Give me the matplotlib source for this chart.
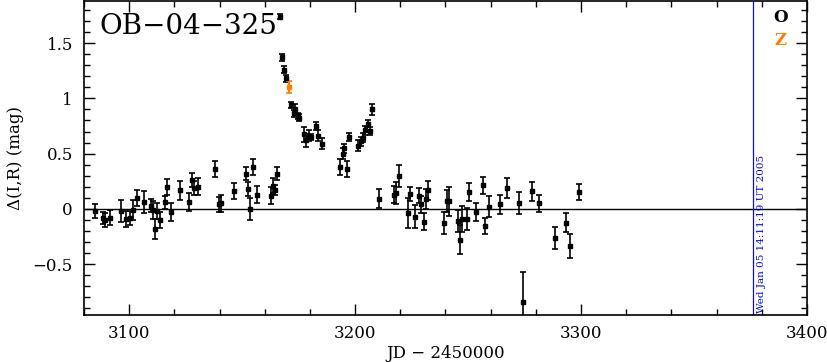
import matplotlib
matplotlib.use("Agg")
import matplotlib.pyplot as plt
from matplotlib.ticker import MultipleLocator

# O band (black)
jd_o = [3084.7, 3088.6, 3089.5, 3091.7, 3096.5, 3098.6, 3100.5, 3101.6, 3103.3, 3106.6,
        3109.6, 3110.6, 3111.6, 3112.5, 3113.7, 3115.7, 3116.6, 3118.7, 3122.7, 3126.6,
        3127.6, 3128.6, 3130.4, 3137.8, 3139.6, 3140.7, 3146.5, 3151.5, 3152.6, 3153.4,
        3154.6, 3156.7, 3162.6, 3163.5, 3164.5, 3165.6, 3166.6, 3167.6, 3168.7, 3169.6,
        3171.6, 3172.8, 3173.5, 3174.6, 3175.3, 3177.6, 3178.4, 3179.6, 3180.5, 3182.6,
        3183.5, 3185.5, 3193.2, 3194.5, 3195.3, 3196.2, 3197.3, 3201.2, 3202.5, 3203.4,
        3204.4, 3205.6, 3206.5, 3207.6, 3210.5, 3217.3, 3218.3, 3219.5, 3223.5, 3224.5,
        3226.4, 3228.5, 3229.3, 3230.4, 3231.5, 3232.4, 3239.5, 3240.5, 3241.5, 3245.4,
        3246.4, 3247.5, 3249.4, 3250.4, 3253.4, 3256.6, 3257.4, 3259.4, 3264.3, 3267.4,
        3272.5, 3274.4, 3278.3, 3281.6, 3288.3, 3293.2, 3295.2, 3299.3]
dmag_o = [-0.02, -0.08, -0.10, -0.08, -0.02, -0.09, -0.08, -0.01, 0.10, 0.06,
          0.03, -0.01, -0.18, -0.02, -0.10, 0.06, 0.20, -0.03, 0.17, 0.06,
          0.26, 0.19, 0.20, 0.36, 0.04, 0.05, 0.16, 0.32, 0.18, 0.00,
          0.38, 0.13, 0.12, 0.21, 0.17, 0.32, 1.74, 1.37, 1.26, 1.18,
          0.94, 0.865, 0.90, 0.84, 0.825, 0.675, 0.62, 0.66, 0.65, 0.75,
          0.66, 0.59, 0.38, 0.50, 0.55, 0.36, 0.65, 0.57, 0.61, 0.645,
          0.71, 0.77, 0.705, 0.90, 0.09, 0.13, 0.14, 0.30, -0.04, 0.135,
          -0.07, 0.12, 0.04, -0.115, 0.09, 0.17, -0.13, 0.07, 0.07, -0.11,
          -0.28, -0.09, -0.09, 0.15, -0.03, 0.215, -0.155, 0.02, 0.04, 0.19,
          0.05, -0.845, 0.16, 0.05, -0.26, -0.125, -0.335, 0.155]
err_o = [0.063, 0.056, 0.06, 0.066, 0.10, 0.07, 0.063, 0.09, 0.075, 0.10,
         0.057, 0.08, 0.09, 0.07, 0.074, 0.06, 0.072, 0.084, 0.085, 0.083,
         0.065, 0.06, 0.078, 0.072, 0.07, 0.077, 0.074, 0.062, 0.066, 0.10,
         0.07, 0.078, 0.08, 0.066, 0.045, 0.06, 0.025, 0.03, 0.03, 0.03,
         0.03, 0.03, 0.05, 0.03, 0.03, 0.07, 0.06, 0.05, 0.03, 0.04,
         0.05, 0.05, 0.07, 0.05, 0.04, 0.075, 0.04, 0.05, 0.04, 0.04,
         0.04, 0.03, 0.04, 0.05, 0.086, 0.075, 0.10, 0.10, 0.135, 0.06,
         0.107, 0.07, 0.08, 0.077, 0.09, 0.086, 0.10, 0.10, 0.13, 0.096,
         0.13, 0.115, 0.10, 0.08, 0.083, 0.077, 0.072, 0.096, 0.083, 0.09,
         0.10, 0.275, 0.086, 0.078, 0.10, 0.086, 0.105, 0.07]

# Z band (orange)
jd_z = [3170.6]
dmag_z = [1.10]
err_z = [0.055]

now_jd = 3376.09
now_label = "Wed Jan 05 14:11:19 UT 2005"

plt.rcParams['font.family'] = ['DejaVu Serif']

fig = plt.figure(figsize=(8.28, 3.62), dpi=100)
ax = fig.add_axes([0.1014, 0.1298, 0.8732, 0.8672])

ax.errorbar(jd_o, dmag_o, yerr=err_o, fmt='s', color='black', ms=2.5,
            elinewidth=1.2, capsize=2, capthick=1.2)
ax.errorbar(jd_z, dmag_z, yerr=err_z, fmt='s', color='#ff8000', ms=2.5,
            elinewidth=1.6, capsize=2, capthick=1.2)

ax.axhline(0, color='black', lw=1)
ax.axvline(now_jd, color='#1010c0', lw=0.9)
ax.text(now_jd + 1.8, -0.945, now_label, rotation=90, color='blue',
        fontsize=7.5, ha='left', va='bottom')

ax.set_xlim(3080, 3400)
ax.set_ylim(-0.96, 1.88)

ax.xaxis.set_major_locator(MultipleLocator(100))
ax.xaxis.set_minor_locator(MultipleLocator(20))
ax.yaxis.set_major_locator(MultipleLocator(0.5))
ax.yaxis.set_minor_locator(MultipleLocator(0.1))
ax.yaxis.set_major_formatter(matplotlib.ticker.FuncFormatter(
    lambda v, p: ('%g' % v).replace('-', '\u2212')))

ax.tick_params(which='both', direction='in', top=True, right=True,
               labelsize=12, width=1)
ax.tick_params(which='major', length=8)
ax.tick_params(which='minor', length=4)
ax.tick_params(axis='y', pad=8)
ax.tick_params(axis='x', pad=7)
for s in ax.spines.values():
    s.set_linewidth(1.2)

ax.set_xlabel('JD \u2212 2450000', fontsize=12, labelpad=2)
ax.set_ylabel('\u0394(I,R) (mag)', fontsize=12, labelpad=6)

ax.text(0.022, 0.92, 'OB\u221204\u2212325', transform=ax.transAxes,
        fontsize=20, ha='left', va='center')
ax.text(0.963, 0.949, 'O', transform=ax.transAxes, fontsize=12,
        color='black', ha='center', va='center', fontweight='bold')
ax.text(0.963, 0.873, 'Z', transform=ax.transAxes, fontsize=12,
        color='#ff8000', ha='center', va='center', fontweight='bold')

fig.savefig('out.png', dpi=100)
